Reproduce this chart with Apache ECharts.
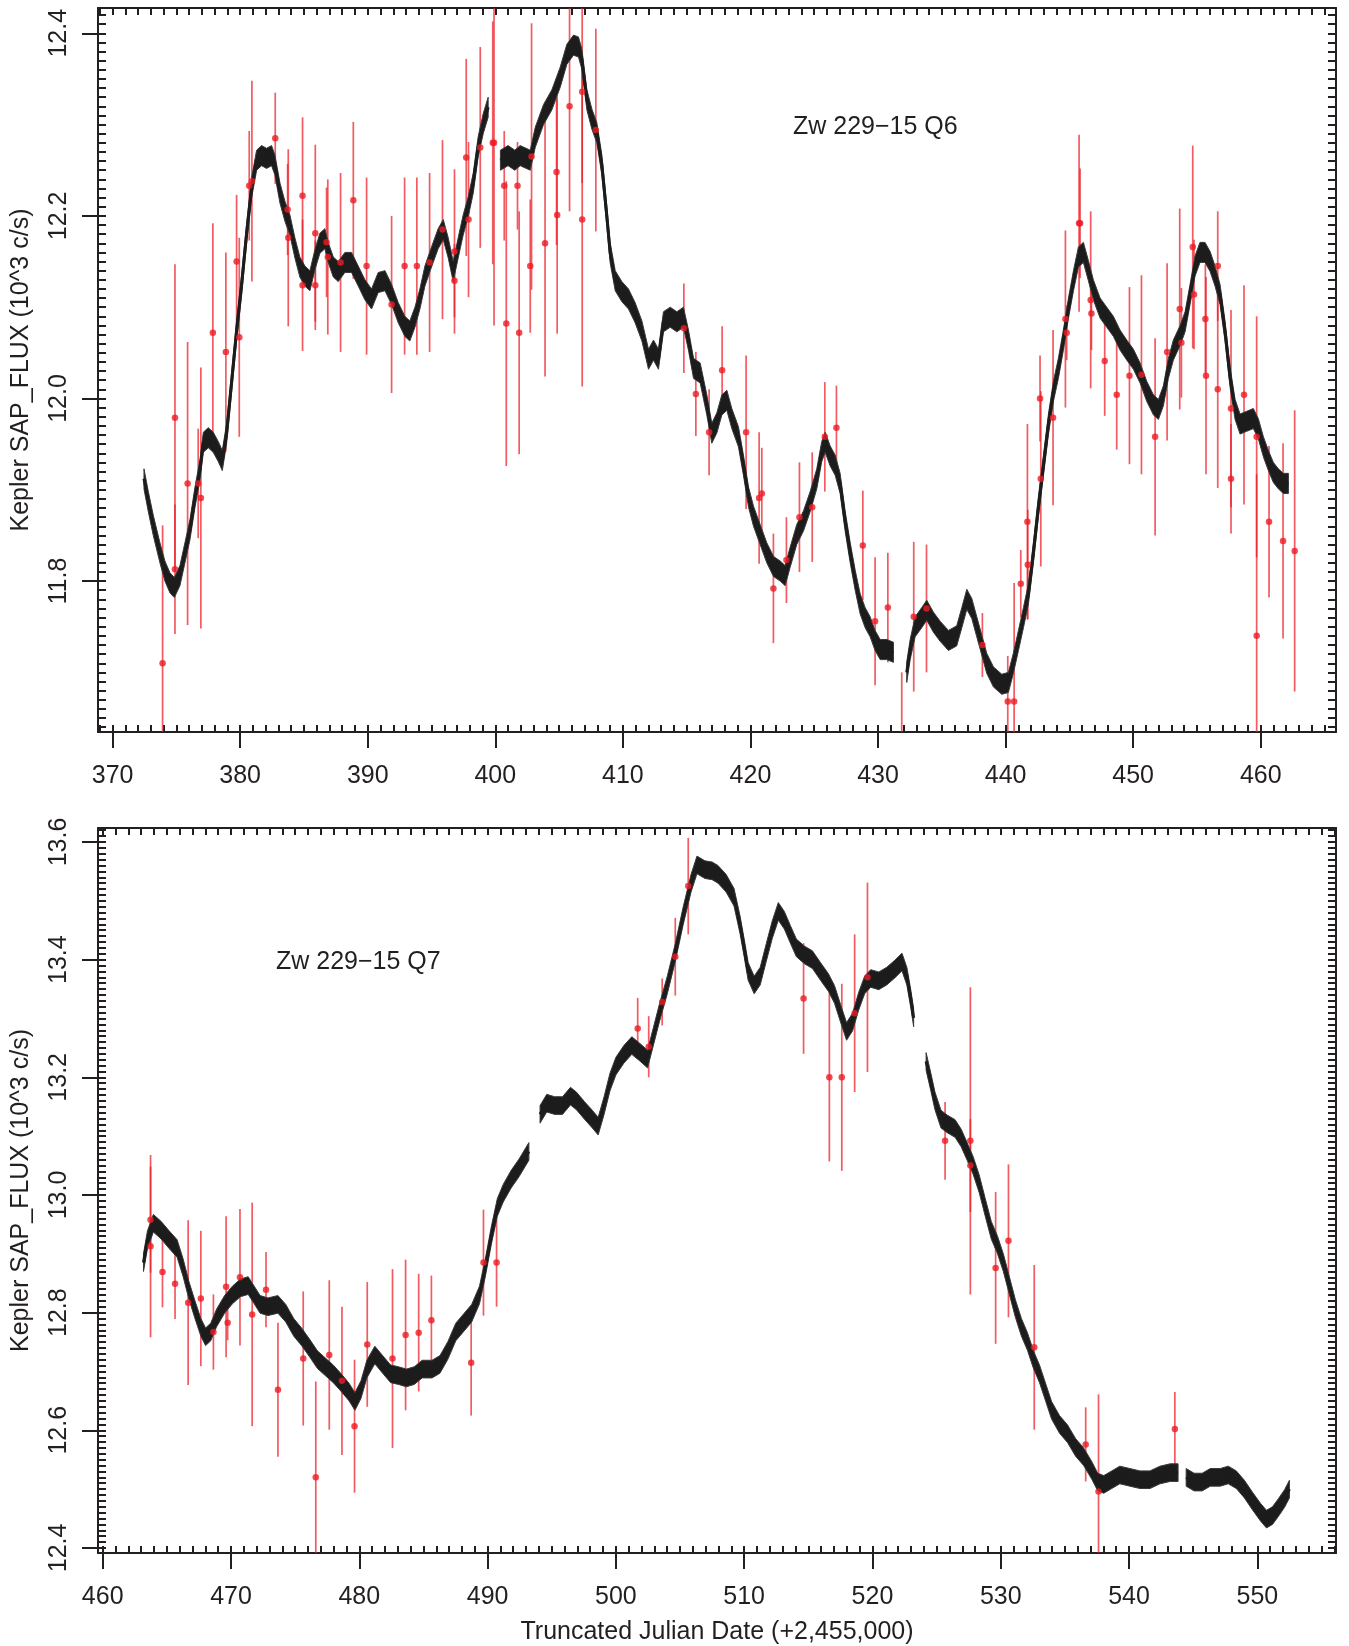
<!DOCTYPE html>
<html>
<head>
<meta charset="utf-8">
<script src="https://cdn.jsdelivr.net/npm/echarts@6/dist/echarts.min.js"></script>
<style>html,body{margin:0;padding:0;background:#fff}#c{width:1349px;height:1646px}</style>
</head>
<body>
<div id="c"></div>
<script>
// ---------- DATA ----------
// Q6 light curve (day, flux in 10^3 c/s); null marks a gap in the data
const q6Curve = [
[372.46,11.912],[372.80,11.887],[373.19,11.861],[373.71,11.831],[374.10,11.811],[374.50,11.798],[374.84,11.793],[375.28,11.806],[375.67,11.831],[376.06,11.856],[376.46,11.892],[376.85,11.922],[377.11,11.952],[377.50,11.957],[377.89,11.952],[378.28,11.942],[378.60,11.932],[378.94,11.962],[379.33,12.018],[379.72,12.074],[380.11,12.124],[380.50,12.180],[380.90,12.231],[381.29,12.261],[381.68,12.266],[382.07,12.263],[382.46,12.266],[382.72,12.256],[383.12,12.225],[383.51,12.205],[383.90,12.190],[384.29,12.165],[384.68,12.144],[385.08,12.134],[385.47,12.129],[385.86,12.152],[386.25,12.170],[386.64,12.175],[386.90,12.160],[387.30,12.144],[387.69,12.139],[388.21,12.149],[388.73,12.149],[389.26,12.134],[389.78,12.119],[390.30,12.109],[390.82,12.127],[391.35,12.129],[391.87,12.114],[392.39,12.094],[392.91,12.079],[393.30,12.074],[393.70,12.089],[394.09,12.109],[394.48,12.134],[395.00,12.155],[395.52,12.175],[395.92,12.185],[396.31,12.165],[396.70,12.139],[397.09,12.165],[397.48,12.190],[397.88,12.210],[398.27,12.236],[398.66,12.276],[399.05,12.301],[399.44,12.319],
null,
[400.40,12.261],[401.00,12.266],[401.53,12.261],[401.95,12.266],[402.74,12.261],[403.13,12.286],[403.78,12.311],[404.43,12.327],[405.09,12.352],[405.61,12.377],[406.13,12.387],[406.52,12.385],[406.78,12.372],[407.18,12.327],[407.57,12.306],[407.96,12.291],[408.35,12.256],[408.74,12.200],[409.00,12.160],[409.40,12.129],[409.92,12.117],[410.44,12.109],[410.96,12.094],[411.49,12.074],[412.01,12.043],[412.40,12.053],[412.79,12.043],[413.18,12.084],[413.71,12.089],[414.23,12.084],[414.75,12.089],[415.14,12.064],[415.54,12.033],[416.06,12.028],[416.58,11.993],[416.97,11.962],[417.36,11.973],[417.76,11.993],[418.15,11.998],[418.54,11.978],[419.06,11.958],[419.45,11.927],[419.85,11.892],[420.24,11.871],[420.76,11.851],[421.28,11.831],[421.81,11.816],[422.33,11.811],[422.72,11.806],[423.11,11.826],[423.63,11.851],[424.16,11.866],[424.68,11.887],[425.20,11.912],[425.59,11.942],[425.86,11.952],[426.25,11.937],[426.64,11.927],[427.03,11.907],[427.42,11.866],[427.82,11.831],[428.21,11.801],[428.60,11.775],[428.99,11.760],[429.38,11.750],[429.77,11.735],[430.17,11.725],[430.69,11.725],[431.21,11.722],
null,
[432.25,11.700],[432.52,11.725],[432.91,11.750],[433.43,11.760],[433.82,11.768],[434.34,11.755],[434.87,11.745],[435.52,11.735],[436.17,11.740],[436.57,11.760],[436.96,11.780],[437.35,11.770],[437.74,11.750],[438.13,11.730],[438.52,11.710],[439.05,11.695],[439.70,11.687],[440.22,11.689],[440.61,11.710],[441.01,11.735],[441.40,11.760],[441.79,11.786],[442.18,11.831],[442.57,11.881],[442.97,11.927],[443.36,11.972],[443.75,12.008],[444.14,12.033],[444.53,12.064],[444.93,12.099],[445.32,12.129],[445.71,12.155],[446.10,12.160],[446.49,12.140],[446.88,12.119],[447.41,12.099],[447.93,12.089],[448.45,12.079],[448.97,12.064],[449.50,12.053],[450.02,12.043],[450.54,12.028],[451.06,12.008],[451.59,11.993],[451.98,11.988],[452.37,12.003],[452.76,12.033],[453.15,12.053],[453.68,12.069],[454.07,12.084],[454.46,12.114],[454.85,12.145],[455.24,12.160],[455.63,12.160],[456.03,12.150],[456.42,12.134],[456.81,12.114],[457.20,12.074],[457.60,12.023],[457.99,11.988],[458.38,11.972],[458.90,11.975],[459.42,11.978],[459.81,11.967],[460.21,11.947],[460.60,11.932],[460.99,11.919],[461.38,11.912],[461.77,11.907],[462.17,11.907]
];

// Q6 comparison photometry (day, flux, 1-sigma error)
const q6Errors = [
[373.92,11.710,0.151],[374.89,11.979,0.168],[374.89,11.813,0.071],[375.88,11.907,0.155],[376.71,11.907,0.060],[376.92,11.891,0.143],
[377.86,12.072,0.120],[378.88,12.051,0.109],[379.72,12.150,0.073],[379.93,12.067,0.109],[380.71,12.233,0.060],[380.92,12.238,0.110],
[382.75,12.285,0.050],[383.72,12.207,0.050],[383.77,12.176,0.097],[384.89,12.222,0.086],[384.89,12.124,0.072],[385.89,12.181,0.097],
[385.89,12.124,0.049],[386.77,12.171,0.060],[386.87,12.155,0.085],[387.87,12.149,0.098],[388.87,12.217,0.086],[389.91,12.145,0.097],
[391.87,12.103,0.097],[392.89,12.145,0.097],[393.85,12.145,0.097],[394.85,12.149,0.098],[395.86,12.185,0.098],[396.80,12.161,0.090],
[396.80,12.129,0.040],[397.72,12.264,0.108],[397.90,12.196,0.085],[398.82,12.275,0.110],[399.80,12.280,0.133],[399.90,12.280,0.200],
[400.70,12.233,0.060],[400.86,12.082,0.156],[401.74,12.233,0.048],[401.87,12.072,0.133],[402.74,12.145,0.073],[402.84,12.265,0.146],
[403.90,12.170,0.146],[404.80,12.248,0.080],[404.85,12.201,0.130],[405.82,12.320,0.115],[406.81,12.336,0.100],[406.81,12.196,0.183],
[407.88,12.294,0.111],[414.78,12.077,0.049],[415.72,12.005,0.046],[416.76,11.963,0.047],[417.78,12.031,0.048],[419.66,11.963,0.084],
[420.68,11.891,0.072],[420.89,11.896,0.050],[421.80,11.792,0.060],[422.82,11.823,0.047],[423.84,11.870,0.060],[424.84,11.881,0.060],
[425.83,11.958,0.060],[426.74,11.968,0.046],[428.81,11.839,0.060],[429.77,11.756,0.070],[430.77,11.771,0.060],[431.86,11.620,0.080],
[432.80,11.761,0.082],[433.80,11.770,0.070],[438.18,11.730,0.035],[440.17,11.668,0.050],[440.67,11.668,0.130],[441.19,11.797,0.037],
[441.71,11.865,0.107],[441.74,11.818,0.060],[442.70,12.000,0.047],[442.76,11.912,0.096],[443.72,11.979,0.096],[444.69,12.087,0.097],
[444.79,12.072,0.030],[445.76,12.192,0.097],[445.84,12.192,0.060],[446.67,12.108,0.097],[446.73,12.093,0.040],[447.77,12.041,0.060],
[448.71,12.004,0.060],[449.71,12.025,0.097],[450.65,12.026,0.109],[451.72,11.958,0.108],[452.66,12.051,0.097],[453.65,12.098,0.110],
[453.78,12.061,0.060],[454.67,12.166,0.111],[454.77,12.114,0.060],[455.66,12.087,0.060],[455.71,12.025,0.108],[456.63,12.145,0.060],
[456.63,12.010,0.108],[457.67,11.989,0.108],[457.67,11.912,0.060],[458.69,12.004,0.120],[459.68,11.958,0.132],[459.68,11.740,0.177],
[460.65,11.865,0.083],[461.75,11.844,0.107],[462.66,11.833,0.154]
];

// Q7 light curve
const q7Curve = [
[463.18,12.885],[463.49,12.924],[463.95,12.952],[464.56,12.940],[465.18,12.924],[465.80,12.909],[466.26,12.877],[466.72,12.838],[467.18,12.806],[467.65,12.775],[468.02,12.759],[468.42,12.767],[468.88,12.791],[469.50,12.814],[470.11,12.830],[470.73,12.842],[471.34,12.846],[471.81,12.830],[472.27,12.814],[472.88,12.810],[473.66,12.814],[474.27,12.799],[474.89,12.775],[475.50,12.759],[476.12,12.740],[476.74,12.720],[477.35,12.708],[477.97,12.696],[478.59,12.681],[479.20,12.665],[479.66,12.649],[480.13,12.669],[480.59,12.704],[481.21,12.728],[481.82,12.712],[482.44,12.696],[483.05,12.693],[483.67,12.689],[484.29,12.693],[484.90,12.704],[485.67,12.704],[486.29,12.712],[486.91,12.736],[487.52,12.767],[488.14,12.783],[488.76,12.799],[489.37,12.830],[489.83,12.877],[490.30,12.932],[490.76,12.979],[491.22,13.003],[491.84,13.027],[492.45,13.046],[493.22,13.074],
null,
[494.09,13.137],[494.61,13.156],[495.23,13.152],[495.84,13.152],[496.46,13.168],[496.92,13.160],[497.54,13.144],[498.16,13.129],[498.62,13.117],[499.08,13.152],[499.54,13.192],[500.00,13.219],[500.62,13.239],[501.24,13.254],[501.85,13.243],[502.47,13.231],[502.93,13.270],[503.39,13.309],[504.01,13.357],[504.63,13.412],[505.24,13.474],[505.86,13.530],[506.32,13.561],[506.94,13.553],[507.50,13.551],[507.96,13.545],[508.59,13.530],[509.21,13.506],[509.68,13.459],[510.00,13.420],[510.31,13.380],[510.78,13.357],[511.25,13.372],[511.72,13.412],[512.19,13.451],[512.66,13.482],[513.13,13.467],[513.60,13.443],[514.07,13.420],[514.70,13.408],[515.32,13.400],[515.95,13.380],[516.57,13.361],[517.04,13.341],[517.51,13.309],[517.98,13.278],[518.45,13.294],[518.92,13.329],[519.39,13.357],[519.86,13.368],[520.49,13.364],[521.11,13.372],[521.74,13.384],[522.30,13.396],[522.68,13.372],[522.99,13.333],[523.21,13.301],
null,
[524.18,13.227],[524.56,13.191],[524.87,13.160],[525.34,13.129],[525.81,13.121],[526.44,13.113],[526.91,13.097],[527.38,13.074],[527.85,13.050],[528.32,13.019],[528.79,12.979],[529.26,12.940],[529.73,12.916],[530.20,12.885],[530.67,12.846],[531.14,12.807],[531.61,12.775],[532.08,12.751],[532.55,12.720],[533.02,12.696],[533.49,12.665],[533.96,12.634],[534.58,12.610],[535.21,12.594],[535.83,12.571],[536.46,12.555],[537.09,12.532],[537.56,12.512],[538.03,12.508],[538.65,12.516],[539.28,12.524],[540.06,12.520],[540.85,12.516],[541.63,12.516],[542.41,12.524],[543.20,12.528],[543.82,12.528],
null,
[544.45,12.520],[545.07,12.512],[545.70,12.512],[546.33,12.520],[547.11,12.520],[547.73,12.524],[548.36,12.516],[548.99,12.500],[549.61,12.480],[550.24,12.461],[550.71,12.449],[551.18,12.455],[551.65,12.469],[552.12,12.484],[552.50,12.500]
];

// Q7 comparison photometry (day, flux, 1-sigma error)
const q7Errors = [
[463.73,12.913,0.155],[463.73,12.958,0.090],[464.66,12.869,0.060],[465.64,12.849,0.060],[466.66,12.817,0.140],[467.65,12.824,0.115],
[468.63,12.767,0.064],[469.62,12.844,0.120],[469.74,12.783,0.030],[470.70,12.860,0.116],[471.65,12.797,0.190],[472.73,12.839,0.064],
[473.66,12.669,0.114],[475.63,12.722,0.114],[476.61,12.520,0.163],[477.66,12.728,0.127],[478.65,12.684,0.126],[479.63,12.607,0.113],
[480.62,12.746,0.106],[482.59,12.722,0.152],[483.61,12.762,0.128],[484.63,12.766,0.100],[485.62,12.787,0.076],[488.72,12.715,0.090],
[489.68,12.885,0.090],[490.70,12.885,0.075],[501.70,13.283,0.052],[502.56,13.252,0.052],[503.61,13.328,0.040],[504.63,13.405,0.066],
[505.64,13.525,0.082],[514.63,13.334,0.094],[516.64,13.200,0.143],[517.61,13.200,0.159],[518.61,13.309,0.134],[519.61,13.370,0.161],
[525.66,13.092,0.066],[527.63,13.092,0.261],[527.63,13.050,0.079],[529.60,12.876,0.129],[530.60,12.922,0.130],[532.61,12.741,0.140],
[536.62,12.576,0.063],[537.62,12.496,0.165],[543.57,12.602,0.063]
];

// Axis limits and tick labels
const q6XRange = [368.856, 465.90];
const q6YRange = [11.6347, 12.4277];
const q7XRange = [459.634, 556.13];
const q7YRange = [12.3914, 13.6238];
const q6XTicks = [370, 380, 390, 400, 410, 420, 430, 440, 450, 460];
const q6YTicks = [11.8, 12.0, 12.2, 12.4];
const q7XTicks = [460, 470, 480, 490, 500, 510, 520, 530, 540, 550];
const q7YTicks = [12.4, 12.6, 12.8, 13.0, 13.2, 13.4, 13.6];

const yTitle = 'Kepler SAP_FLUX (10^3 c/s)';
const xTitle = 'Truncated Julian Date (+2,455,000)';
const q6Label = 'Zw 229\u221215 Q6';
const q7Label = 'Zw 229\u221215 Q7';

// ---------- CHART ----------
const FONT = '"Liberation Sans", Arial, Helvetica, sans-serif';
const INK = '#231f20';
const RED = '#ec1c24';
const BAR = 'rgba(236,28,36,0.72)';

function minorSteps(r, step) {
  const out = [];
  const k0 = Math.ceil(r[0] / step - 1e-9), k1 = Math.floor(r[1] / step + 1e-9);
  for (let k = k0; k <= k1; k++) out.push(Math.round(k * step * 1000) / 1000);
  return out;
}

const panels = [
  { grid: { left: 98, top: 8, width: 1238, height: 724 }, xr: q6XRange, yr: q6YRange,
    xt: q6XTicks, yt: q6YTicks, curve: q6Curve, err: q6Errors, hw: 0.011, xname: '',
    label: q6Label, lx: 793, ly: 127 },
  { grid: { left: 98, top: 828, width: 1238, height: 725 }, xr: q7XRange, yr: q7YRange,
    xt: q7XTicks, yt: q7YTicks, curve: q7Curve, err: q7Errors, hw: 0.015, xname: xTitle,
    label: q7Label, lx: 276, ly: 962 }
];

const grids = [], xAxes = [], yAxes = [], series = [], graphics = [];
const line2 = { color: INK, width: 2 };

panels.forEach((p, g) => {
  grids.push(Object.assign({ containLabel: false, outerBoundsMode: 'none' }, p.grid));
  const xMinor = minorSteps(p.xr, 1);
  const yMinor = minorSteps(p.yr, 0.01);
  const base = { type: 'value', gridIndex: g, splitLine: { show: false }, scale: true };
  // x: main bottom
  xAxes.push(Object.assign({}, base, {
    min: p.xr[0], max: p.xr[1], position: 'bottom',
    axisLine: { show: true, onZero: false, lineStyle: line2 },
    axisTick: { show: true, inside: false, length: 16, lineStyle: line2, customValues: p.xt },
    axisLabel: { show: true, customValues: p.xt, margin: 32, fontSize: 25, color: INK, fontFamily: FONT,
      formatter: v => String(Math.round(v)) },
    name: p.xname, nameLocation: 'middle', nameGap: 67,
    nameTextStyle: { fontSize: 25, color: INK, fontFamily: FONT }
  }));
  // x: minor bottom (inward)
  xAxes.push(Object.assign({}, base, {
    min: p.xr[0], max: p.xr[1], position: 'bottom',
    axisLine: { show: false, onZero: false },
    axisTick: { show: true, inside: true, length: 7, lineStyle: line2, customValues: xMinor },
    axisLabel: { show: false }
  }));
  // x: top frame
  xAxes.push(Object.assign({}, base, {
    min: p.xr[0], max: p.xr[1], position: 'top',
    axisLine: { show: true, onZero: false, lineStyle: line2 },
    axisTick: { show: true, inside: true, length: 7, lineStyle: line2, customValues: xMinor },
    axisLabel: { show: false }
  }));
  // y: main left
  yAxes.push(Object.assign({}, base, {
    min: p.yr[0], max: p.yr[1], position: 'left',
    axisLine: { show: true, onZero: false, lineStyle: line2 },
    axisTick: { show: true, inside: false, length: 16, lineStyle: line2, customValues: p.yt },
    axisLabel: { show: true, customValues: p.yt, rotate: 90, margin: 26, fontSize: 25, color: INK,
      fontFamily: FONT, formatter: v => v.toFixed(1) },
    name: yTitle, nameLocation: 'middle', nameGap: 64,
    nameTextStyle: { fontSize: 25, color: INK, fontFamily: FONT }
  }));
  // y: minor left (inward)
  yAxes.push(Object.assign({}, base, {
    min: p.yr[0], max: p.yr[1], position: 'left',
    axisLine: { show: false, onZero: false },
    axisTick: { show: true, inside: true, length: 8, lineStyle: line2, customValues: yMinor },
    axisLabel: { show: false }
  }));
  // y: right frame
  yAxes.push(Object.assign({}, base, {
    min: p.yr[0], max: p.yr[1], position: 'right',
    axisLine: { show: true, onZero: false, lineStyle: line2 },
    axisTick: { show: true, inside: true, length: 8, lineStyle: line2, customValues: yMinor },
    axisLabel: { show: false }
  }));

  const xi = 3 * g, yi = 3 * g;
  const yr = p.yr;

  // error bars
  series.push({
    type: 'custom', xAxisIndex: xi, yAxisIndex: yi, z: 1, clip: true, silent: true,
    data: p.err,
    renderItem: (params, api) => {
      const d = api.value(0), f = api.value(1), s = api.value(2);
      const lo = Math.max(f - s, yr[0]), hi = Math.min(f + s, yr[1]);
      if (hi <= lo) return null;
      const a = api.coord([d, lo]), b = api.coord([d, hi]);
      return { type: 'line', shape: { x1: a[0], y1: a[1], x2: b[0], y2: b[1] },
        style: { stroke: BAR, lineWidth: 1.7 } };
    }
  });

  // light curve segments (split at null gaps)
  const segs = [];
  let cur = [];
  p.curve.forEach(pt => {
    if (pt === null) { if (cur.length) segs.push(cur); cur = []; }
    else cur.push(pt);
  });
  if (cur.length) segs.push(cur);
  const hw = p.hw;
  series.push({
    type: 'custom', xAxisIndex: xi, yAxisIndex: yi, z: 2, clip: true, silent: true,
    data: segs.map((s, i) => [s[0][0], s[0][1], i]),
    renderItem: (params, api) => {
      const s = segs[api.value(2)];
      const up = s.map(q => api.coord([q[0], q[1] + hw]));
      const dn = s.map(q => api.coord([q[0], q[1] - hw])).reverse();
      const mid = s.map(q => api.coord([q[0], q[1]]));
      return { type: 'group', children: [
        { type: 'polygon', shape: { points: up.concat(dn) },
          style: { fill: '#1c1c1c', stroke: '#3a3a3a', lineWidth: 1 } },
        { type: 'polyline', shape: { points: mid },
          style: { stroke: '#1c1c1c', lineWidth: 3, fill: null, lineJoin: 'round' } }
      ] };
    }
  });

  // red points
  series.push({
    type: 'scatter', xAxisIndex: xi, yAxisIndex: yi, z: 3, silent: true,
    symbol: 'circle', symbolSize: 6.5,
    itemStyle: { color: RED },
    data: p.err.map(e => [e[0], e[1]])
  });

  graphics.push({
    type: 'text', x: p.lx, y: p.ly, silent: true,
    style: { text: p.label, fontSize: 25, fontFamily: FONT, fill: INK, align: 'left', verticalAlign: 'middle' }
  });
});

const chart = echarts.init(document.getElementById('c'), null, { renderer: 'canvas' });
chart.setOption({
  backgroundColor: '#ffffff',
  animation: false,
  grid: grids,
  xAxis: xAxes,
  yAxis: yAxes,
  series: series,
  graphic: graphics
});
</script>
</body>
</html>
